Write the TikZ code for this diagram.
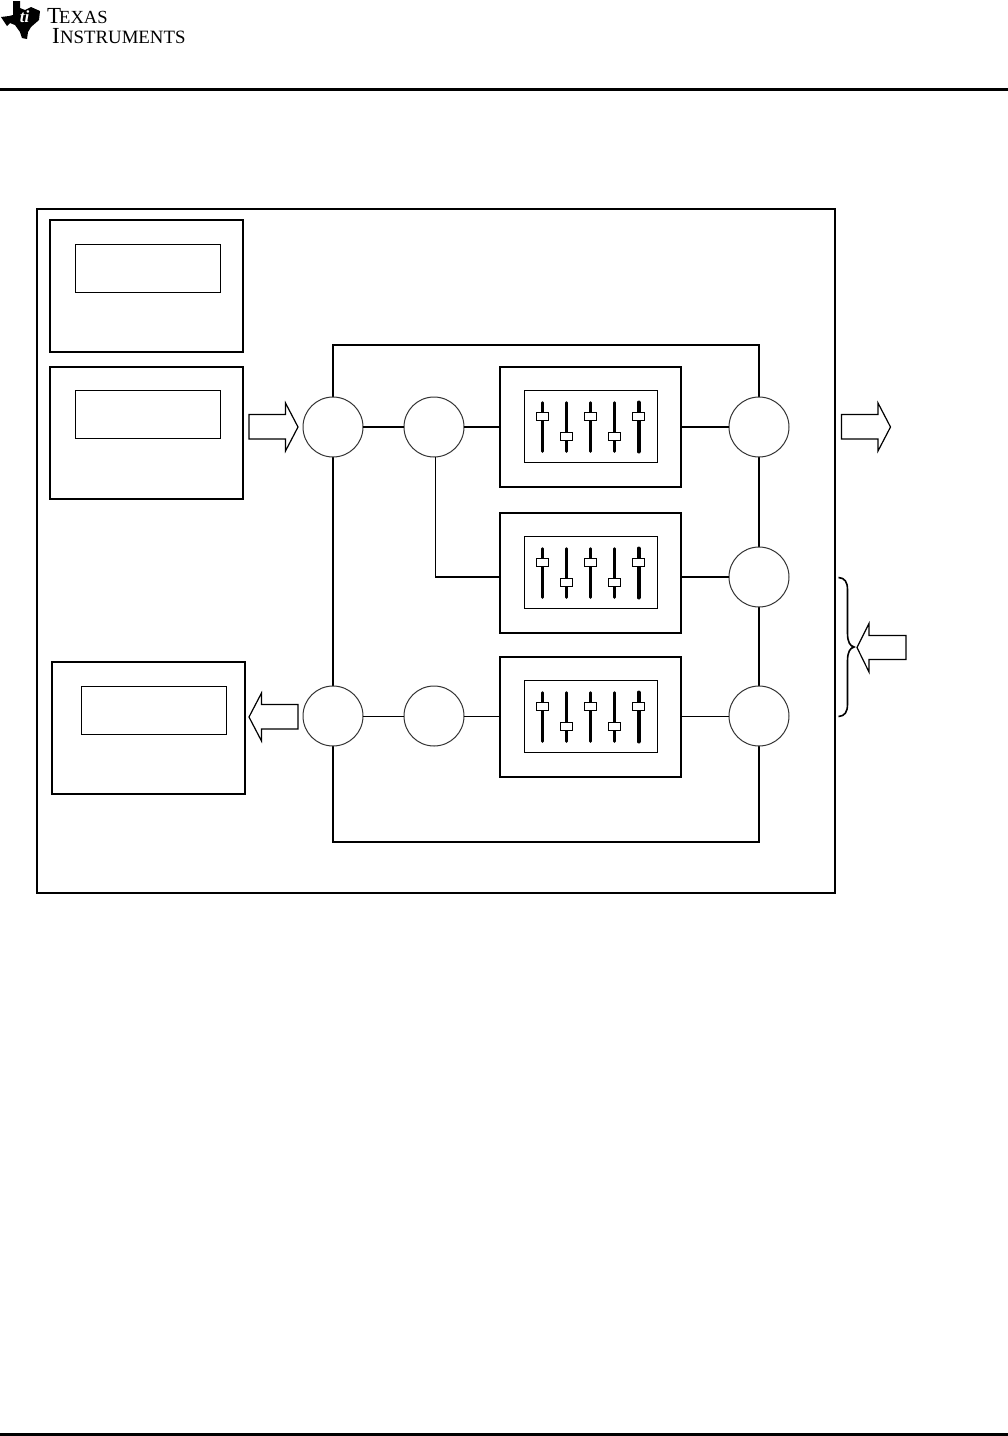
\documentclass[tikz,border=0pt]{standalone}
\usepackage{fontspec}
\setmainfont{Liberation Serif}
\usepackage{tikz}

\begin{document}
\begin{tikzpicture}
        [%%%%%%%%%%%%%%%%%%%%%%%%%%%%%%
        x=1pt, y=-1pt,
        frame/.style={draw, line width=1.5pt, inner sep=0, outer sep=0},
        panel/.style={draw, line width=0.8pt, fill=white, inner sep=0, outer sep=0},
        port/.style={circle, draw=black!80, line width=1pt, fill=white, minimum size=60pt, inner sep=0, outer sep=0},
        strong/.style={line width=2pt},
        fine/.style={line width=1pt},
        blockarrow/.style={draw, line width=1.2pt, line join=miter, fill=white},
        track/.style={line width=2.5pt, line cap=round},
        knob/.style={draw, line width=1.2pt, fill=white, minimum width=12pt, minimum height=8pt, inner sep=0, outer sep=0},
        ]%%%%%%%%%%%%%%%%%%%%%%%%%%%%%%
        \useasboundingbox (0,0) rectangle (1008,1436);
        % Page rules
        \fill (0,88.2) rectangle (1008,90.8);
        \fill (0,1432.8) rectangle (1008,1436);
        % Logo
        \fill (13,1) -- (20,1) -- (20,8) -- (25,10) -- (31,7) -- (40,11) -- (39,20) -- (31,27) -- (28,32) -- (27,39) -- (22,38) -- (20,32) -- (15,25) -- (10,23) -- (7,26) -- (1,17) -- (9,16) -- (13,15) -- cycle;
        \node[white, font=\itshape\bfseries\fontsize{17}{17}\selectfont] (tilogo) at (24.5,17) {ti};
        \node[anchor=north west, inner sep=0, align=left, font=\fontsize{23}{19.5}\selectfont] (brand) at (47,8.3)
          {T\kern-2pt{\fontsize{18.5}{19.5}\selectfont EXAS}\\
           \hspace*{5pt}I\kern0.3pt{\fontsize{18.8}{19.5}\selectfont NSTRUMENTS}};
        % Main frames
        \draw[frame] (37,209) rectangle (835,893);
        \draw[frame] (333,345) rectangle (759,842);
        % Side panels
        \foreach \name/\x/\y/\ix/\iy in {one/50/220/75/244, two/50/367/75/390, three/52/662/81/686}{
          \node[frame, anchor=north west, minimum width=193pt, minimum height=132pt] (\name) at (\x,\y){};
          \node[panel, anchor=north west, minimum width=145pt, minimum height=48pt] (\name in) at (\ix,\iy){};
        }
        % Mixer blocks with sliders
        \foreach \name/\y in {mixa/367, mixb/513, mixc/657}{
          \node[frame, anchor=north west, minimum width=181pt, minimum height=120pt] (\name) at (500,\y){};
          \node[panel, anchor=north west, minimum width=133pt, minimum height=72pt] (\name in) at (524,\y+23.5){};
          \foreach \x/\k/\w in {542.5/49.5/2.5, 566.5/69.5/2.5, 590.5/49.5/2.5, 614.5/69.5/2.5, 638.5/49.5/4}{
            \draw[track, line width=\w pt] (\x,\y+35.5) -- (\x,\y+84.5);
            \node[knob] at (\x,\y+\k){};
          }
        }
        % Ports
        \node[port] (inl) at (333,427){};
        \node[port] (spl) at (434,427){};
        \node[port] (outa) at (759,427){};
        \node[port] (outb) at (759,577){};
        \node[port] (back) at (333,716){};
        \node[port] (ret) at (434,716){};
        \node[port] (outc) at (759,716){};
        % Connectors
        \draw[strong] (inl) -- (spl);
        \draw[strong] (spl) -- (spl -| mixa.west);
        \draw[strong] (mixa.east |- outa) -- (outa);
        \draw[fine, line width=1.3pt] ([xshift=1.5pt]spl.south) |- (mixb.west |- outb);
        \draw[strong] (mixb.east |- outb) -- (outb);
        \draw[fine] (back) -- (ret);
        \draw[fine] (ret) -- (ret -| mixc.west);
        \draw[fine] (mixc.east |- outc) -- (outc);
        % Block arrows
        \foreach \x in {249,841.5}{
          \draw[blockarrow] (\x,414.5) -- (\x+36.5,414.5) -- (\x+36.5,403) -- (\x+49,427) -- (\x+36.5,451) -- (\x+36.5,439) -- (\x,439) -- cycle;
        }
        \draw[blockarrow] (298,704.5) -- (261.5,704.5) -- (261.5,693) -- (249,717) -- (261.5,741) -- (261.5,729) -- (298,729) -- cycle;
        \draw[blockarrow] (906,635.5) -- (869,635.5) -- (869,623.5) -- (857,647.5) -- (869,672) -- (869,659.5) -- (906,659.5) -- cycle;
        % Brace
        \draw[line width=1.6pt] (838.5,577.5) .. controls (845,578) and (847.5,582) .. (847.5,590) -- (847.5,633) .. controls (847.5,642) and (850,646) .. (854,647) .. controls (850,648) and (847.5,652) .. (847.5,661) -- (847.5,704) .. controls (847.5,712) and (845,716) .. (838.5,716.5);
      \end{tikzpicture}
\end{document}
